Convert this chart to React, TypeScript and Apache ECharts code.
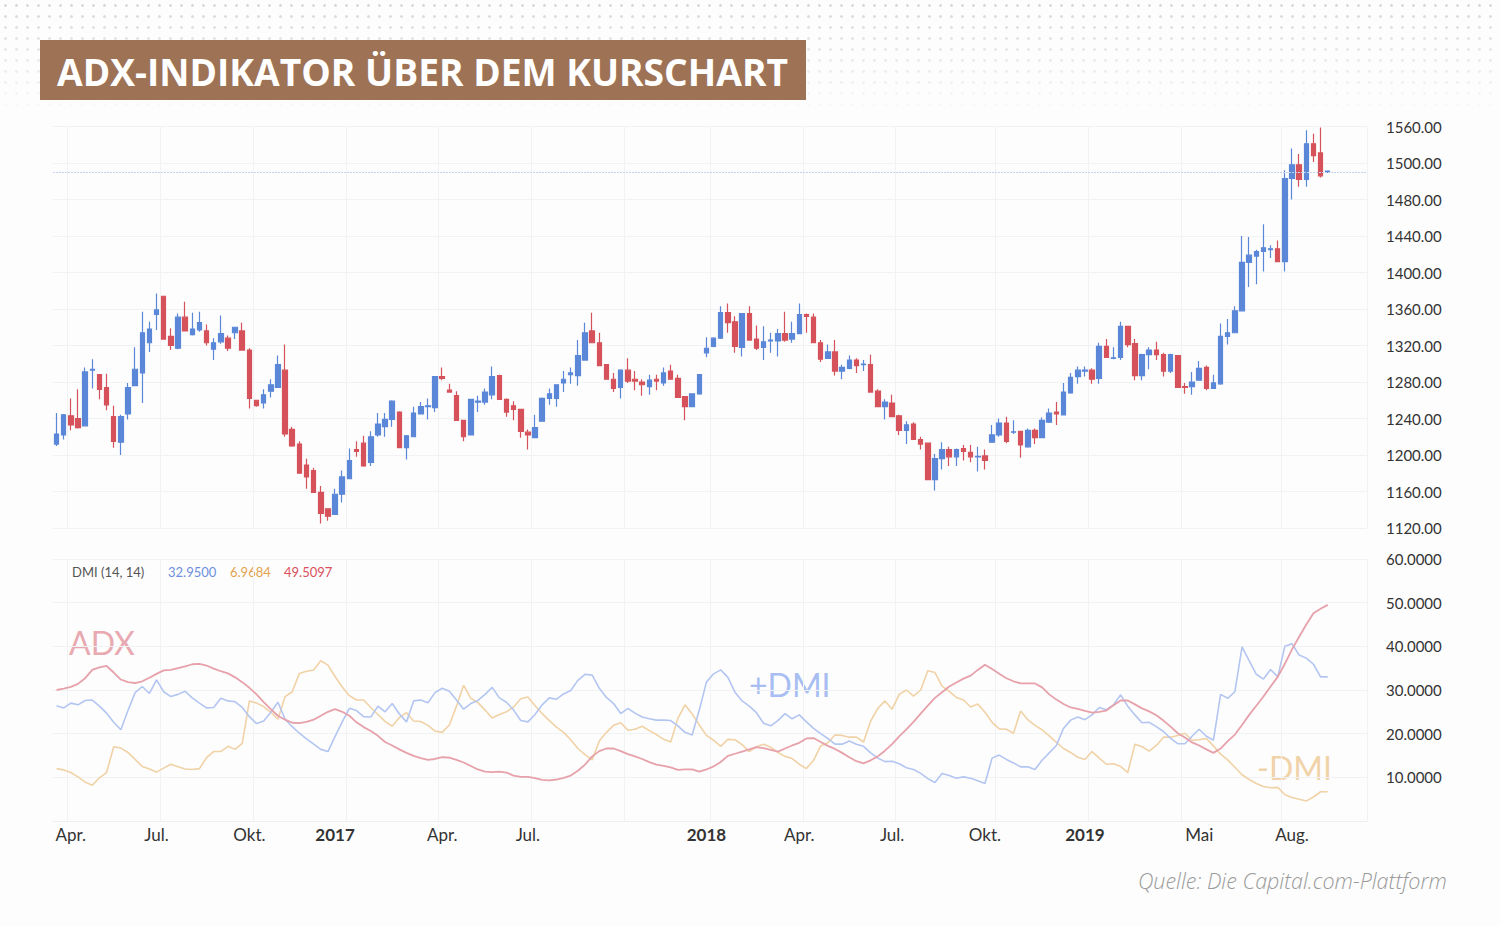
import React, { useEffect, useRef } from "react";
import * as echarts from "echarts";

// weekly candles: [open, close, low, high]
const candles: number[][] = [
  [1212, 1223, 1210, 1246], [1222, 1244, 1217, 1245], [1243, 1233, 1227, 1262], [1240, 1230, 1229, 1272],
  [1232, 1291, 1232, 1296], [1293, 1294, 1273, 1305], [1288, 1272, 1261, 1288], [1274, 1255, 1249, 1289],
  [1242, 1215, 1208, 1254], [1214, 1242, 1200, 1244], [1245, 1274, 1239, 1279], [1276, 1294, 1276, 1318],
  [1290, 1334, 1257, 1357], [1323, 1338, 1313, 1346], [1354, 1359, 1337, 1377], [1374, 1327, 1327, 1374],
  [1330, 1320, 1315, 1339], [1317, 1351, 1316, 1355], [1351, 1336, 1336, 1368], [1332, 1338, 1331, 1356],
  [1337, 1345, 1335, 1357], [1336, 1323, 1320, 1343], [1316, 1323, 1304, 1328], [1324, 1333, 1322, 1353],
  [1328, 1317, 1314, 1331], [1334, 1340, 1327, 1340], [1336, 1315, 1315, 1345], [1315, 1262, 1251, 1317],
  [1260, 1254, 1253, 1260], [1257, 1266, 1251, 1272], [1270, 1277, 1263, 1283], [1274, 1299, 1274, 1309],
  [1293, 1223, 1220, 1321], [1228, 1210, 1209, 1231], [1212, 1180, 1180, 1215], [1189, 1176, 1163, 1196],
  [1183, 1159, 1159, 1186], [1159, 1136, 1125, 1166], [1141, 1133, 1128, 1141], [1135, 1157, 1135, 1163],
  [1157, 1176, 1148, 1183], [1174, 1194, 1174, 1207], [1206, 1204, 1198, 1215], [1213, 1188, 1187, 1221],
  [1192, 1220, 1188, 1226], [1222, 1234, 1220, 1246], [1231, 1239, 1220, 1246], [1239, 1259, 1231, 1260],
  [1247, 1208, 1208, 1248], [1208, 1221, 1195, 1222], [1220, 1246, 1220, 1253], [1245, 1253, 1245, 1258],
  [1253, 1254, 1239, 1262], [1252, 1286, 1247, 1286], [1286, 1284, 1282, 1296], [1271, 1269, 1269, 1278],
  [1265, 1238, 1238, 1270], [1238, 1220, 1215, 1238], [1222, 1261, 1222, 1261], [1258, 1259, 1247, 1265],
  [1258, 1269, 1255, 1273], [1266, 1286, 1261, 1297], [1287, 1261, 1261, 1288], [1261, 1247, 1242, 1262],
  [1254, 1250, 1238, 1259], [1250, 1226, 1219, 1250], [1225, 1222, 1206, 1228], [1219, 1230, 1219, 1244],
  [1237, 1262, 1237, 1263], [1262, 1267, 1255, 1273], [1262, 1277, 1253, 1277], [1279, 1283, 1269, 1292],
  [1288, 1290, 1278, 1296], [1287, 1309, 1276, 1326], [1304, 1334, 1304, 1345], [1336, 1323, 1323, 1356],
  [1323, 1298, 1298, 1334], [1299, 1283, 1283, 1299], [1283, 1273, 1269, 1290], [1274, 1293, 1262, 1294],
  [1293, 1281, 1279, 1306], [1283, 1281, 1271, 1292], [1280, 1277, 1265, 1283], [1275, 1282, 1266, 1288],
  [1283, 1281, 1271, 1288], [1279, 1290, 1276, 1296], [1292, 1283, 1283, 1299], [1284, 1263, 1263, 1288],
  [1264, 1253, 1238, 1264], [1253, 1267, 1253, 1267], [1267, 1288, 1266, 1288], [1312, 1317, 1307, 1329],
  [1319, 1328, 1318, 1329], [1328, 1356, 1327, 1363], [1356, 1345, 1334, 1366], [1346, 1319, 1312, 1352],
  [1318, 1355, 1308, 1355], [1355, 1326, 1326, 1363], [1327, 1317, 1315, 1342], [1318, 1324, 1304, 1341],
  [1325, 1326, 1312, 1334], [1325, 1333, 1308, 1338], [1333, 1326, 1324, 1357], [1327, 1333, 1323, 1346],
  [1333, 1354, 1333, 1366], [1354, 1352, 1334, 1355], [1351, 1323, 1323, 1355], [1323, 1305, 1302, 1326],
  [1306, 1313, 1306, 1321], [1313, 1292, 1287, 1326], [1292, 1296, 1283, 1299], [1295, 1304, 1294, 1309],
  [1304, 1298, 1290, 1306], [1299, 1299.5, 1292, 1304], [1299, 1269, 1269, 1310], [1270, 1253, 1253, 1272],
  [1253, 1258, 1239, 1261], [1257, 1242, 1242, 1266], [1243, 1227, 1222, 1244], [1227, 1233, 1212, 1237],
  [1234, 1217, 1217, 1236], [1217, 1212, 1206, 1220], [1213, 1173, 1173, 1213], [1173, 1196, 1161, 1201],
  [1196, 1206, 1184, 1214], [1206, 1198, 1188, 1209], [1198, 1206, 1188, 1207], [1207, 1204, 1194, 1211],
  [1203, 1198, 1192, 1211], [1198, 1198.5, 1182, 1209], [1199, 1194, 1184, 1206], [1214, 1222, 1214, 1233],
  [1222, 1235, 1220, 1240], [1235, 1215, 1213, 1242], [1225, 1225.5, 1223, 1238], [1226, 1211, 1197, 1226],
  [1209, 1227, 1208, 1229], [1227, 1219, 1212, 1229], [1219, 1238, 1219, 1241], [1236, 1246, 1235, 1251],
  [1247, 1245, 1233, 1258], [1244, 1269, 1244, 1279], [1268, 1285, 1267, 1290], [1286, 1293, 1278, 1297],
  [1292, 1293, 1286, 1297], [1293, 1283, 1278, 1295], [1284, 1319, 1278, 1323], [1319, 1307, 1307, 1327],
  [1306, 1306.5, 1305, 1318], [1307, 1341, 1304, 1346], [1341, 1321, 1318, 1341], [1322, 1287, 1282, 1327],
  [1287, 1310, 1282, 1311], [1310, 1315, 1294, 1318], [1315, 1310, 1304, 1324], [1310, 1292, 1286, 1312],
  [1292, 1310, 1290, 1311], [1309, 1274, 1274, 1309], [1275, 1274, 1267, 1279], [1275, 1280, 1266, 1291],
  [1282, 1295, 1282, 1303], [1296, 1273, 1271, 1298], [1273, 1279, 1273, 1288], [1278, 1330, 1277, 1344],
  [1330, 1334, 1321, 1349], [1334, 1358, 1334, 1363], [1358, 1411, 1358, 1440], [1411, 1419, 1384, 1439],
  [1418, 1423, 1387, 1425], [1423, 1427, 1401, 1453], [1425, 1426, 1416, 1430], [1426, 1412, 1412, 1435],
  [1412, 1503, 1401, 1512], [1503, 1518, 1480, 1536], [1518, 1502, 1494, 1530], [1502, 1541, 1494, 1556],
  [1541, 1528, 1521, 1552], [1531, 1506, 1504, 1559], [1510, 1511, 1509, 1511],
];

const adx: number[] = [
  30.0, 30.3, 30.7, 31.4, 32.7, 34.6, 35.2, 35.5, 34.0, 32.4, 31.8, 31.6, 32.0, 32.8, 33.7, 34.5, 34.6, 35.0, 35.4, 35.9,
  36.0, 35.6, 34.9, 34.3, 33.8, 32.9, 31.8, 30.5, 29.0, 27.2, 25.6, 24.1, 23.2, 22.5, 22.4, 22.7, 23.2, 24.1, 25.0, 25.6,
  25.0, 24.1, 22.6, 21.5, 20.6, 19.5, 18.1, 17.3, 16.4, 15.6, 14.9, 14.4, 14.0, 14.2, 14.6, 14.5, 14.0, 13.4, 12.6, 11.8,
  11.3, 11.2, 11.3, 11.1, 10.4, 10.1, 10.1, 9.8, 9.4, 9.3, 9.5, 9.9, 10.4, 11.5, 12.9, 14.8, 16.0, 16.6, 16.6, 16.0,
  15.3, 14.8, 14.2, 13.5, 12.9, 12.6, 12.3, 11.7, 11.8, 11.8, 11.3, 11.8, 12.5, 13.5, 14.9, 15.4, 15.9, 16.4, 16.9, 16.7,
  16.3, 15.9, 16.6, 17.3, 17.9, 18.9, 19.0, 18.1, 17.2, 16.5, 15.6, 14.6, 13.7, 13.2, 13.9, 14.8, 16.1, 17.6, 19.4, 21.0,
  22.7, 24.6, 26.4, 28.2, 29.5, 30.8, 31.7, 32.6, 33.3, 34.6, 35.8, 34.8, 33.7, 32.7, 32.0, 31.5, 31.5, 31.5, 30.6, 29.0,
  27.8, 26.8, 26.0, 25.7, 25.2, 24.8, 25.0, 25.3, 26.5, 27.6, 27.6, 26.7, 25.8, 25.1, 24.2, 23.0, 21.6, 20.1, 19.1, 18.0,
  17.3, 16.4, 15.6, 16.6, 18.3, 19.8, 22.0, 24.3, 26.4, 28.5, 30.8, 33.0, 36.0, 39.3, 42.2, 45.0, 47.6, 48.6, 49.5,
];

const plusDmi: number[] = [
  26.4, 25.9, 27.0, 26.6, 27.6, 27.7, 26.3, 24.7, 22.6, 20.9, 25.3, 29.4, 30.8, 29.2, 32.3, 29.6, 28.5, 29.0, 29.7, 28.2,
  27.0, 25.9, 26.0, 28.1, 27.5, 27.3, 26.0, 23.9, 22.3, 22.9, 24.9, 27.2, 23.3, 21.6, 20.1, 18.8, 17.6, 16.4, 15.9, 19.4,
  22.7, 25.8, 25.3, 23.9, 23.8, 26.3, 25.0, 26.9, 24.5, 22.7, 27.5, 27.7, 27.1, 29.4, 30.4, 29.7, 27.7, 25.6, 26.9, 27.6,
  29.0, 30.6, 28.2, 27.2, 25.4, 23.0, 22.7, 24.4, 26.6, 28.2, 27.9, 29.1, 29.9, 32.2, 33.6, 33.4, 30.4, 28.3, 26.9, 24.6,
  25.8, 24.7, 23.8, 23.4, 23.1, 23.1, 23.0, 21.8, 20.3, 19.7, 25.4, 31.8, 33.7, 34.6, 32.9, 29.5, 27.5, 26.3, 24.8, 22.4,
  21.8, 23.0, 24.6, 23.4, 24.3, 22.7, 21.2, 20.0, 18.9, 17.6, 17.6, 18.3, 17.6, 17.1, 15.6, 14.4, 13.6, 13.7, 13.1, 12.2,
  11.8, 10.9, 9.7, 8.8, 10.9, 10.4, 9.8, 10.1, 9.8, 9.2, 8.6, 14.4, 15.1, 14.1, 13.3, 12.4, 12.4, 11.8, 13.9, 15.6,
  17.3, 21.2, 23.1, 23.8, 23.2, 24.3, 26.0, 25.5, 26.6, 28.9, 26.3, 24.3, 22.5, 22.6, 21.6, 20.5, 18.9, 17.7, 17.7, 19.4,
  21.0, 19.4, 18.5, 29.0, 28.1, 29.6, 39.9, 36.7, 33.6, 32.5, 34.7, 33.0, 40.0, 40.6, 38.0, 37.3, 35.9, 33.0, 33.0,
];

const minusDmi: number[] = [
  12.0, 11.7, 11.1, 10.1, 8.9, 8.2, 9.9, 11.1, 17.0, 16.7, 15.7, 14.1, 12.5, 11.9, 11.2, 12.1, 13.0, 12.4, 11.9, 11.8,
  12.0, 14.5, 15.9, 15.9, 17.1, 16.4, 17.8, 27.5, 27.0, 26.2, 24.9, 23.3, 28.5, 29.6, 33.8, 34.3, 34.6, 36.7, 35.7, 33.1,
  30.7, 28.7, 27.7, 27.7, 26.0, 24.4, 22.8, 21.7, 23.7, 24.8, 22.9, 22.8, 21.9, 20.6, 20.3, 22.0, 26.3, 31.1, 28.1, 27.1,
  25.4, 23.6, 24.4, 25.0, 26.1, 28.0, 28.4, 26.4, 24.6, 23.0, 21.5, 20.3, 18.6, 16.6, 15.2, 14.0, 18.3, 20.3, 21.9, 22.5,
  20.8, 21.0, 21.7, 20.7, 19.8, 18.7, 18.1, 23.5, 26.6, 24.5, 22.0, 19.6, 18.5, 17.1, 18.7, 18.6, 17.5, 15.9, 17.0, 17.6,
  16.9, 15.7, 14.8, 14.3, 13.0, 12.0, 13.9, 17.2, 17.9, 19.7, 19.6, 19.2, 19.2, 18.1, 22.9, 25.8, 27.5, 25.6, 29.0, 30.0,
  28.6, 30.0, 34.4, 34.0, 30.9, 29.7, 28.3, 27.7, 26.1, 26.8, 24.9, 22.6, 21.1, 21.0, 20.1, 25.2, 23.2, 21.9, 20.9, 19.5,
  18.0, 16.6, 15.7, 14.6, 14.1, 15.9, 14.4, 13.0, 13.1, 12.5, 11.1, 17.6, 17.0, 16.0, 17.3, 19.2, 19.2, 19.6, 20.1, 18.5,
  18.6, 18.9, 17.2, 15.3, 14.0, 12.3, 10.6, 9.5, 8.6, 7.9, 7.6, 7.7, 6.0, 5.4, 5.0, 4.6, 5.5, 6.7, 6.7,
];

const EMPTY_WEEKS = 5;
const xLabelIndex = [2, 14, 27, 39, 54, 66, 91, 104, 117, 130, 144, 160, 173];
const xLabelText = ["Apr.", "Jul.", "Okt.", "2017", "Apr.", "Jul.", "2018", "Apr.", "Jul.", "Okt.", "2019", "Mai", "Aug."];
const yearLabels = ["2017", "2018", "2019"];
const vGridIndex = [2, 15, 28, 41, 54, 67, 80, 92, 105, 118, 132, 145, 158, 172];

const priceTicks = [1120, 1160, 1200, 1240, 1280, 1320, 1360, 1400, 1440, 1480, 1520, 1560];
const priceTickLabels = ["1120.00", "1160.00", "1200.00", "1240.00", "1280.00", "1320.00", "1360.00", "1400.00", "1440.00", "1480.00", "1500.00", "1560.00"];
const dmiTicks = [10, 20, 30, 40, 50, 60];
const dmiTickLabels = ["10.0000", "20.0000", "30.0000", "40.0000", "50.0000", "60.0000"];
const lastPrice = 1510;
const legendTitle = "DMI (14, 14)";
const legendValues = ["32.9500", "6.9684", "49.5097"];

const titleText = "ADX-INDIKATOR ÜBER DEM KURSCHART";
const sourceText = "Quelle: Die Capital.com-Plattform";

const BLUE = "#5b87d8";
const RED = "#d6525b";
const ADX_C = "#e6a1aa";
const PDI_C = "#b3c5f1";
const MDI_C = "#f0d2a6";
const FONT = "Lato, 'Open Sans', sans-serif";

export default function App() {
  const ref = useRef<HTMLDivElement>(null);
  useEffect(() => {
    if (!ref.current) return;
    const chart = echarts.init(ref.current, undefined, { renderer: "svg" });
    const cats = Array.from({ length: candles.length + EMPTY_WEEKS }, (_, i) => "w" + i);
    const labelSet = new Map<number, string>();
    xLabelIndex.forEach((idx, k) => labelSet.set(idx, xLabelText[k]));
    const vSet = new Set(vGridIndex);
    const gridLine = { show: true, lineStyle: { color: "#f1f2f4", width: 1 } };
    const vSplit = { show: true, interval: (i: number) => vSet.has(i), lineStyle: { color: "#f1f2f4", width: 1 } };

    const option: any = {
      animation: false,
      grid: [
        { left: 53, width: 1314, top: 126.5, height: 401.5 },
        { left: 53, width: 1314, top: 559, height: 262 },
      ],
      xAxis: [
        {
          type: "category", gridIndex: 0, data: cats, boundaryGap: true,
          axisLine: { show: false }, axisTick: { show: false }, axisLabel: { show: false },
          splitLine: vSplit,
        },
        {
          type: "category", gridIndex: 1, data: cats, boundaryGap: true,
          axisLine: { show: true, lineStyle: { color: "#eeeeee" } }, axisTick: { show: false },
          splitLine: vSplit,
          axisLabel: {
            interval: (i: number) => labelSet.has(i),
            margin: 5,
            color: "#333",
            fontSize: 17,
            fontFamily: FONT,
            formatter: (_v: string, i: number) => {
              const t = labelSet.get(i) || "";
              return yearLabels.includes(t) ? "{b|" + t + "}" : t;
            },
            rich: { b: { fontWeight: "bold", fontSize: 17, color: "#333", fontFamily: FONT } },
          },
        },
      ],
      yAxis: [
        {
          type: "value", gridIndex: 0, position: "right", min: 1120, max: 1560, interval: 40,
          axisLine: { show: false }, axisTick: { show: false }, splitLine: gridLine,
          axisLabel: {
            margin: 19, color: "#333", fontSize: 15, fontFamily: FONT,
            formatter: (v: number) => {
              const k = priceTicks.indexOf(v);
              return k >= 0 ? priceTickLabels[k] : "";
            },
          },
        },
        {
          type: "value", gridIndex: 1, position: "right", min: 0, max: 60, interval: 10,
          axisLine: { show: false }, axisTick: { show: false }, splitLine: gridLine,
          axisLabel: {
            margin: 19, color: "#333", fontSize: 15, fontFamily: FONT,
            formatter: (v: number) => {
              const k = dmiTicks.indexOf(v);
              return k >= 0 ? dmiTickLabels[k] : "";
            },
          },
        },
      ],
      series: [
        {
          type: "candlestick", xAxisIndex: 0, yAxisIndex: 0, data: candles, barWidth: 5,
          itemStyle: { color: BLUE, color0: RED, borderColor: BLUE, borderColor0: RED, borderWidth: 1.2 },
          markLine: {
            silent: true, symbol: "none", label: { show: false },
            lineStyle: { color: "#c3d4ee", width: 1.2, type: [2, 1] },
            data: [{ yAxis: lastPrice }],
          },
        },
        { type: "line", xAxisIndex: 1, yAxisIndex: 1, data: minusDmi, symbol: "none", lineStyle: { color: MDI_C, width: 1.6 } },
        { type: "line", xAxisIndex: 1, yAxisIndex: 1, data: plusDmi, symbol: "none", lineStyle: { color: PDI_C, width: 1.6 } },
        { type: "line", xAxisIndex: 1, yAxisIndex: 1, data: adx, symbol: "none", lineStyle: { color: ADX_C, width: 1.8 } },
      ],
      graphic: [
        { type: "rect", shape: { x: 40, y: 40, width: 766, height: 60 }, style: { fill: "#9e7255" } },
        {
          type: "text", x: 57, y: 71,
          style: { text: titleText, fill: "#ffffff", fontSize: 37.2, fontWeight: "bold", fontFamily: "'Open Sans', sans-serif", verticalAlign: "middle", align: "left" },
        },
        { type: "text", x: 72, y: 572, style: { text: legendTitle, fill: "#555", fontSize: 13, fontFamily: FONT, verticalAlign: "middle" } },
        { type: "text", x: 168, y: 572, style: { text: legendValues[0], fill: "#6f8fe0", fontSize: 13, fontFamily: FONT, verticalAlign: "middle" } },
        { type: "text", x: 230, y: 572, style: { text: legendValues[1], fill: "#e3a24f", fontSize: 13, fontFamily: FONT, verticalAlign: "middle" } },
        { type: "text", x: 284, y: 572, style: { text: legendValues[2], fill: "#d9505c", fontSize: 13, fontFamily: FONT, verticalAlign: "middle" } },
        { type: "text", x: 69, y: 642, style: { text: "ADX", fill: "#e8a9b1", fontSize: 32, fontWeight: 400, fontFamily: FONT, verticalAlign: "middle" } },
        { type: "text", x: 749, y: 684, style: { text: "+DMI", fill: "#a8bdf2", fontSize: 32, fontWeight: 400, fontFamily: FONT, verticalAlign: "middle" } },
        { type: "text", x: 1257, y: 767, style: { text: "-DMI", fill: "#f1d3aa", fontSize: 32, fontWeight: 400, fontFamily: FONT, verticalAlign: "middle" } },
        {
          type: "text", x: 1447, y: 880,
          style: { text: sourceText, fill: "#9a9a9a", fontSize: 21.5, fontStyle: "italic", fontWeight: 300, fontFamily: "'Open Sans', sans-serif", align: "right", verticalAlign: "middle" },
        },
      ],
    };
    chart.setOption(option);
    return () => chart.dispose();
  }, []);

  return (
    <div style={{ position: "fixed", left: 0, top: 0, width: 1500, height: 926, background: "#fdfdfd", overflow: "hidden" }}>
      <div
        style={{
          position: "absolute", left: 0, top: 0, width: 1500, height: 120,
          backgroundImage: "radial-gradient(circle, #d6d6d6 1px, transparent 1.6px)",
          backgroundSize: "11px 11px",
          WebkitMaskImage: "linear-gradient(to bottom, rgba(0,0,0,1) 0%, rgba(0,0,0,0.5) 50%, rgba(0,0,0,0) 100%)",
          maskImage: "linear-gradient(to bottom, rgba(0,0,0,1) 0%, rgba(0,0,0,0.5) 50%, rgba(0,0,0,0) 100%)",
        }}
      />
      <div ref={ref} style={{ position: "absolute", left: 0, top: 0, width: 1500, height: 926 }} />
    </div>
  );
}
